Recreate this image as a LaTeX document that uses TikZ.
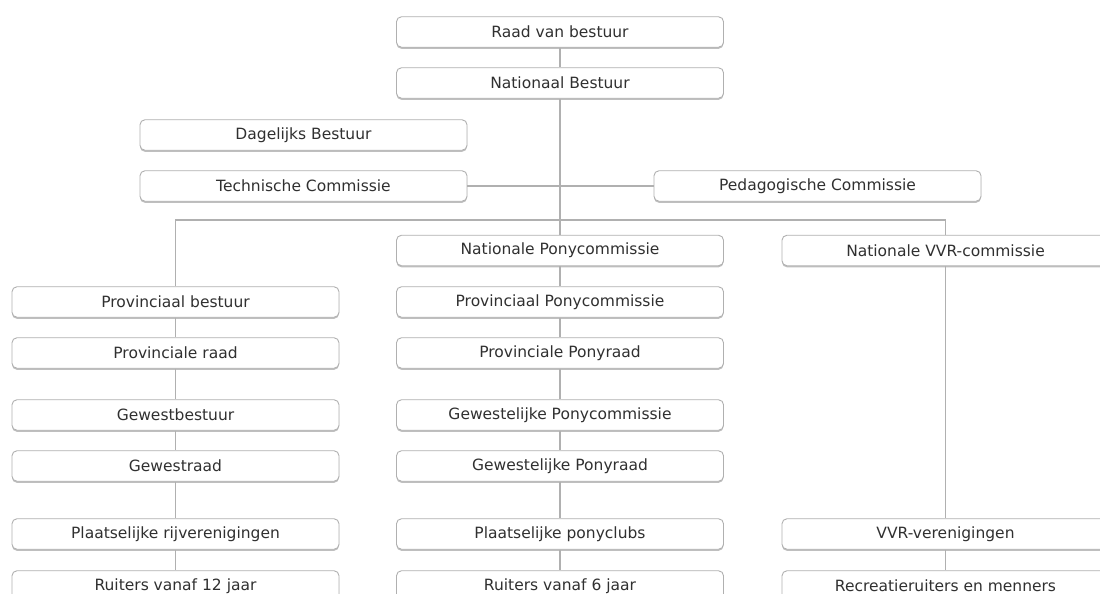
\documentclass[tikz,border=0pt]{standalone}
\usepackage{fontspec}
\setmainfont{DejaVu Sans}
\usetikzlibrary{shadows}
\definecolor{boxline}{HTML}{B0B0B0}
\definecolor{conn}{HTML}{B0B0B0}
\definecolor{txt}{HTML}{303030}
\begin{document}
\begin{tikzpicture}[x=1pt,y=-1pt,
  orgbox/.style={draw=boxline, line width=0.9pt, fill=white, rounded corners=5pt,
    minimum width=327pt, minimum height=30.5pt, inner sep=0pt,
    text=txt, font=\fontsize{15.5}{17}\selectfont,
    drop shadow={shadow xshift=0pt, shadow yshift=-1.6pt, fill=black, opacity=0.25}},
  link/.style={draw=conn, line width=1.8pt}]
\clip (0,0) rectangle (1100,594);
\fill[white] (0,0) rectangle (1100,594);
\coordinate (jl) at (175.5,220);
\coordinate (jr) at (945.5,220);
% nodes
\node[orgbox] (rvb) at (560,32) {Raad van bestuur};
\node[orgbox] (nb) at (560,83) {Nationaal Bestuur};
\node[orgbox] (db) at (303.5,135) {Dagelijks Bestuur};
\node[orgbox] (tc) at (303.5,186) {Technische Commissie};
\node[orgbox] (pc) at (817.5,186) {Pedagogische Commissie};
\node[orgbox] (npc) at (560,250.5) {Nationale Ponycommissie};
\node[orgbox] (nvvr) at (945.5,250.5) {Nationale VVR-commissie};
\node[orgbox] (pb) at (175.5,302) {Provinciaal bestuur};
\node[orgbox] (pr) at (175.5,353) {Provinciale raad};
\node[orgbox] (gb) at (175.5,415) {Gewestbestuur};
\node[orgbox] (gr) at (175.5,466) {Gewestraad};
\node[orgbox] (plr) at (175.5,534) {Plaatselijke rijverenigingen};
\node[orgbox] (r12) at (175.5,586) {Ruiters vanaf 12 jaar};
\node[orgbox] (ppc) at (560,302) {Provinciaal Ponycommissie};
\node[orgbox] (ppr) at (560,353) {Provinciale Ponyraad};
\node[orgbox] (gpc) at (560,415) {Gewestelijke Ponycommissie};
\node[orgbox] (gpr) at (560,466) {Gewestelijke Ponyraad};
\node[orgbox] (plp) at (560,534) {Plaatselijke ponyclubs};
\node[orgbox] (r6) at (560,586) {Ruiters vanaf 6 jaar};
\node[orgbox] (vvrv) at (945.5,534) {VVR-verenigingen};
\node[orgbox] (rec) at (945.5,586) {Recreatieruiters en menners};
% connectors
\path[link] (rvb) -- (nb);
\path[link] (nb) -- (npc);
\path[link] (tc) -- (pc);
\path[link] (pb) -- (jl) -- (jr) -- (nvvr);
\path[link] (pb) -- (pr);
\path[link] (pr) -- (gb);
\path[link] (gb) -- (gr);
\path[link] (gr) -- (plr);
\path[link] (plr) -- (r12);
\path[link] (npc) -- (ppc);
\path[link] (ppc) -- (ppr);
\path[link] (ppr) -- (gpc);
\path[link] (gpc) -- (gpr);
\path[link] (gpr) -- (plp);
\path[link] (plp) -- (r6);
\path[link] (nvvr) -- (vvrv);
\path[link] (vvrv) -- (rec);
\end{tikzpicture}
\end{document}
